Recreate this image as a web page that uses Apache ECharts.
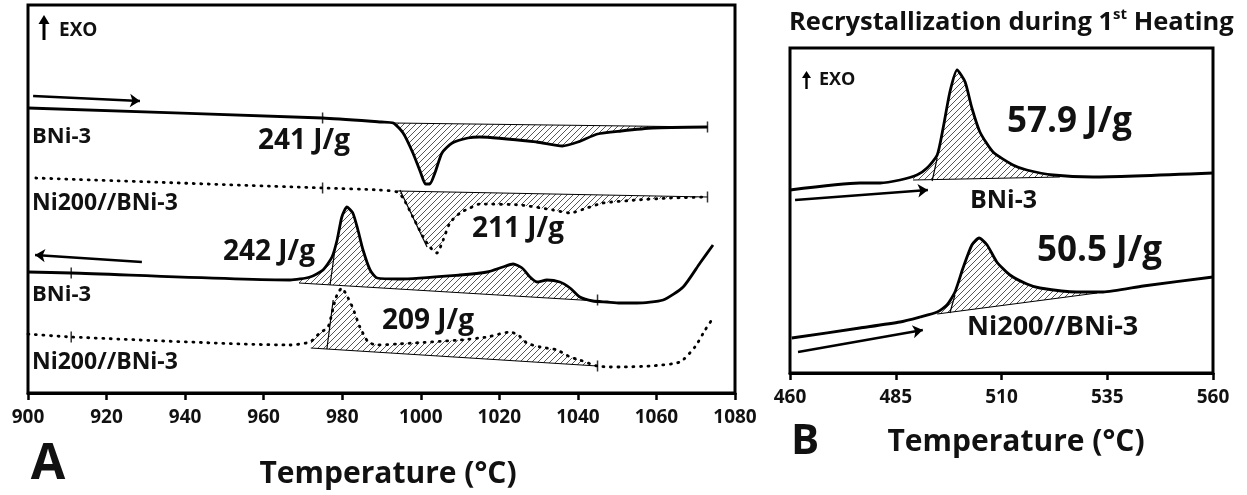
<!DOCTYPE html>
<html><head><meta charset="utf-8">
<script src="https://cdn.jsdelivr.net/npm/echarts@6/dist/echarts.min.js"></script>
<style>html,body{margin:0;padding:0;background:#fff}#c{width:1247px;height:495px}</style>
</head><body><div id="c"></div>
<script>
// ---------- Panel A (DSC, 1st heating / cooling) ----------
const ticksA = [900, 920, 940, 960, 980, 1000, 1020, 1040, 1060, 1080];
// BNi-3, heating (solid)
const heatBniT = [900, 975, 990, 993, 995.5, 998, 1000, 1001.2, 1002.3, 1003.6, 1005.4, 1008, 1012, 1015, 1029.5, 1036, 1040, 1045, 1051, 1059, 1073];
const heatBniY = [285, 275, 271, 270, 260, 240, 220, 209, 209, 220, 240, 250, 255, 256, 251, 247, 251, 259, 262, 265, 266];
// Ni200//BNi-3, heating (dotted)
const heatNiT = [902, 975, 989.6, 994, 995.5, 998, 1000.6, 1002.3, 1004.1, 1005.7, 1007.4, 1010, 1012.5, 1015, 1025.3, 1033.7, 1038, 1042.3, 1046.4, 1055, 1063.5, 1073];
const heatNiY = [215, 205, 203, 201, 195, 176, 156, 146, 140, 153, 170, 180, 185, 189, 188, 183, 180, 185, 190, 193, 195, 196];
// BNi-3, cooling (solid)
const coolBniT = [900, 911, 966.7, 971.8, 975.1, 977.4, 978.7, 979.9, 981.2, 982.7, 984, 985.3, 987.1, 988.9, 994.7, 1010, 1016.9, 1020.9, 1023.5, 1025.8, 1027.8, 1029.6, 1032.1, 1035.4, 1038, 1040.5, 1043.8, 1047.4, 1050.7, 1055, 1061.7, 1066.8, 1071.1, 1074.4];
const coolBniY = [121, 120, 113, 116, 123, 136, 153, 176, 186, 180, 163, 143, 123, 115, 114, 118, 121, 126, 129, 125, 116, 111, 113, 111, 105, 96, 92, 91, 90, 90, 93, 106, 130, 148];
// Ni200//BNi-3, cooling (dotted)
const coolNiT = [900, 911, 966.7, 971.8, 974.3, 976.4, 978.2, 978.9, 979.9, 981.5, 982.7, 984.5, 986.6, 988.9, 994, 1010, 1016.9, 1022.7, 1024.8, 1027, 1030.4, 1034.7, 1038, 1040.5, 1044.9, 1048.2, 1050.7, 1058.4, 1066, 1069.8, 1072.4, 1074.4];
const coolNiY = [59, 56, 48, 51, 60, 66, 93, 100, 105, 95, 85, 66, 51, 48, 49, 53, 56, 61, 58, 50, 46, 43, 36, 33, 27, 26, 26, 27, 31, 46, 63, 75];
// integration baselines [start, end]
const baseHeatBni = [[993, 270], [1073, 266]];
const baseHeatNi = [[994, 202], [1073, 196]];
const baseCoolBni = [[969, 110], [1045, 92]];
const baseCoolNi = [[972, 45], [1045, 27]];
// peak partition lines
const partHeatNi = [[994.7, 203], [1001.6, 146]];
const partCoolBni = [[976.9, 108], [978.2, 145]];
const partCoolNi = [[976.1, 44], [977.7, 93]];
// integration limit marks
const marksA = [[975, 275], [1073, 266], [975, 205], [1073, 196], [911, 120], [1045, 93], [911, 56], [1045, 27]];
// scan direction arrows
const arrowHeatA = [[901.3, 297], [928.5, 292]];
const arrowCoolA = [[929, 131], [901.8, 138]];

// ---------- Panel B (recrystallization, 1st heating) ----------
const ticksB = [460, 485, 510, 535, 560];
const recBniT = [460, 476.5, 481.3, 486, 490, 492.4, 494.8, 496.2, 497.8, 499.5, 501.4, 503, 504.9, 508, 512.7, 516, 522.2, 531.6, 560];
const recBniY = [183, 190, 190, 193, 198, 205, 218, 245, 281, 303, 291, 265, 241, 221, 208, 203, 198, 196, 200];
const recNiT = [460.4, 476.5, 486, 490.7, 494.8, 497.1, 499, 500.9, 503, 504.7, 506.6, 508.9, 512, 516, 519.1, 527.8, 534, 543.5, 560];
const recNiY = [35, 45, 51, 56, 61, 68, 81, 105, 128, 135, 128, 111, 98, 89, 85, 81, 81, 87, 96];
const baseRecBni = [[489.1, 193], [523.8, 196]];
const baseRecNi = [[494.8, 59], [532.6, 80]];
const partRecBni = [[493.6, 192], [494.8, 215]];
const partRecNi = [[497.8, 60], [499, 78]];
const arrowRecBni = [[461.2, 173], [492.6, 183]];
const arrowRecNi = [[461.9, 21], [491.4, 43]];

const zip = (a, b) => a.map((v, i) => [v, b[i]]);
const FONT = '"Open Sans", Lato, sans-serif';

// hatch pattern
const pc = document.createElement('canvas');
pc.width = 6; pc.height = 6;
const pctx = pc.getContext('2d');
pctx.strokeStyle = '#444'; pctx.lineWidth = 0.9;
pctx.beginPath();
pctx.moveTo(0, 6); pctx.lineTo(6, 0);
pctx.moveTo(-1, 1); pctx.lineTo(1, -1);
pctx.moveTo(5, 7); pctx.lineTo(7, 5);
pctx.stroke();
const hatch = { image: pc, repeat: 'repeat' };

function hatchSeries(ax, T, Y, base) {
  const x0 = base[0][0], x1 = base[1][0];
  return {
    type: 'custom', xAxisIndex: ax, yAxisIndex: ax, silent: true, z: 1,
    data: [[x0, base[0][1]]],
    renderItem: function (params, api) {
      const pts = [];
      const interp = (x) => {
        for (let i = 0; i < T.length - 1; i++) {
          if (x >= T[i] && x <= T[i + 1]) return Y[i] + (Y[i + 1] - Y[i]) * (x - T[i]) / (T[i + 1] - T[i]);
        }
        return Y[Y.length - 1];
      };
      pts.push(api.coord([x0, interp(x0)]));
      for (let i = 0; i < T.length; i++) if (T[i] > x0 && T[i] < x1) pts.push(api.coord([T[i], Y[i]]));
      pts.push(api.coord([x1, interp(x1)]));
      pts.push(api.coord(base[1]));
      pts.push(api.coord(base[0]));
      return { type: 'polygon', shape: { points: pts }, style: { fill: hatch, stroke: null } };
    }
  };
}
function thinLine(ax, pts, w) {
  return { type: 'line', xAxisIndex: ax, yAxisIndex: ax, data: pts, symbol: 'none', silent: true, z: 2,
    lineStyle: { color: '#000', width: w || 1.2 } };
}
function curve(ax, T, Y, dotted) {
  return { type: 'line', xAxisIndex: ax, yAxisIndex: ax, data: zip(T, Y), symbol: 'none', silent: true, z: 3,
    smooth: 0.2,
    lineStyle: dotted ? { color: '#000', width: 2.8, type: [1, 6.5], cap: 'round' } : { color: '#000', width: 2.8, join: 'round' } };
}
function arrow(ax, pts) {
  return { type: 'lines', coordinateSystem: 'cartesian2d', xAxisIndex: ax, yAxisIndex: ax, silent: true, z: 4,
    symbol: ['none', 'arrow'], symbolSize: [8, 10],
    lineStyle: { color: '#000', width: 2.4, opacity: 1, curveness: 0 },
    data: [{ coords: pts }] };
}
function xAxisCfg(idx, min, max, interval) {
  return {
    type: 'value', gridIndex: idx, min: min, max: max, interval: interval,
    axisLine: { show: true, lineStyle: { color: '#000', width: 3 } },
    axisTick: { show: true, inside: false, length: 7, lineStyle: { color: '#000', width: 2.5 } },
    axisLabel: { margin: 15, color: '#111', fontFamily: FONT, fontWeight: 'bold', fontSize: 19, formatter: (v) => String(v) },
    splitLine: { show: false }
  };
}
function txt(x, y, text, size, align) {
  return { type: 'text', x: x, y: y, silent: true,
    style: { text: text, font: 'bold ' + size + 'px ' + FONT, fill: '#111', textAlign: align || 'left', textVerticalAlign: 'middle' } };
}

const chart = echarts.init(document.getElementById('c'), null, { renderer: 'canvas' });
chart.setOption({
  animation: false,
  backgroundColor: '#fff',
  title: {
    text: '{a|Recrystallization during 1}{s|st}{a| Heating}',
    left: 784, top: 2,
    textStyle: { rich: {
      a: { fontFamily: FONT, fontWeight: 'bold', fontSize: 25.5, color: '#111', lineHeight: 32 },
      s: { fontFamily: FONT, fontWeight: 'bold', fontSize: 15, color: '#111', lineHeight: 20, verticalAlign: 'top' }
    } }
  },
  grid: [
    { left: 28, right: 512, top: 5, bottom: 102, show: true, borderColor: '#000', borderWidth: 3 },
    { left: 790, right: 34, top: 48, bottom: 122, show: true, borderColor: '#000', borderWidth: 3 }
  ],
  xAxis: [xAxisCfg(0, 900, 1080, 20), xAxisCfg(1, 460, 560, 25)],
  yAxis: [
    { type: 'value', gridIndex: 0, min: 0, max: 388, show: false },
    { type: 'value', gridIndex: 1, min: 0, max: 325, show: false }
  ],
  series: [
    hatchSeries(0, heatBniT, heatBniY, baseHeatBni),
    hatchSeries(0, heatNiT, heatNiY, baseHeatNi),
    hatchSeries(0, coolBniT, coolBniY, baseCoolBni),
    hatchSeries(0, coolNiT, coolNiY, baseCoolNi),
    thinLine(0, baseHeatBni), thinLine(0, baseHeatNi), thinLine(0, baseCoolBni), thinLine(0, baseCoolNi),
    thinLine(0, partHeatNi), thinLine(0, partCoolBni), thinLine(0, partCoolNi),
    curve(0, heatBniT, heatBniY, false),
    curve(0, heatNiT, heatNiY, true),
    curve(0, coolBniT, coolBniY, false),
    curve(0, coolNiT, coolNiY, true),
    { type: 'scatter', xAxisIndex: 0, yAxisIndex: 0, data: marksA, symbol: 'rect', symbolSize: [1.5, 11], silent: true, z: 4,
      itemStyle: { color: '#000' } },
    arrow(0, arrowHeatA), arrow(0, arrowCoolA),

    hatchSeries(1, recBniT, recBniY, baseRecBni),
    hatchSeries(1, recNiT, recNiY, baseRecNi),
    thinLine(1, baseRecBni), thinLine(1, baseRecNi),
    thinLine(1, partRecBni), thinLine(1, partRecNi),
    curve(1, recBniT, recBniY, false),
    curve(1, recNiT, recNiY, false),
    arrow(1, arrowRecBni), arrow(1, arrowRecNi)
  ],
  graphic: [
    // EXO arrows
    { type: 'polygon', silent: true, shape: { points: [[44, 15], [38.5, 24], [49.5, 24]] }, style: { fill: '#000' } },
    { type: 'rect', silent: true, shape: { x: 42.5, y: 23, width: 3, height: 17 }, style: { fill: '#000' } },
    txt(59, 31, 'EXO', 19),
    { type: 'polygon', silent: true, shape: { points: [[806.5, 71], [802, 78], [811, 78]] }, style: { fill: '#000' } },
    { type: 'rect', silent: true, shape: { x: 805.3, y: 77, width: 2.4, height: 12 }, style: { fill: '#000' } },
    txt(819, 80, 'EXO', 18),
    // Panel A labels
    txt(32, 137, 'BNi-3', 22),
    txt(32, 203, 'Ni200//BNi-3', 23),
    txt(32, 295, 'BNi-3', 22),
    txt(32, 362, 'Ni200//BNi-3', 23),
    txt(258, 141, '241 J/g', 28),
    txt(472, 229, '211 J/g', 28),
    txt(223, 252, '242 J/g', 28),
    txt(382, 321, '209 J/g', 28),
    txt(48, 465, 'A', 50, 'center'),
    txt(388, 474, 'Temperature (°C)', 30, 'center'),
    // Panel B labels
    txt(1007, 122, '57.9 J/g', 35),
    txt(970, 201, 'BNi-3', 25),
    txt(1037, 251, '50.5 J/g', 35),
    txt(967, 327, 'Ni200//BNi-3', 27),
    txt(805, 442, 'B', 42, 'center'),
    txt(1016, 442, 'Temperature (°C)', 30, 'center')
  ]
});
</script>
</body></html>
